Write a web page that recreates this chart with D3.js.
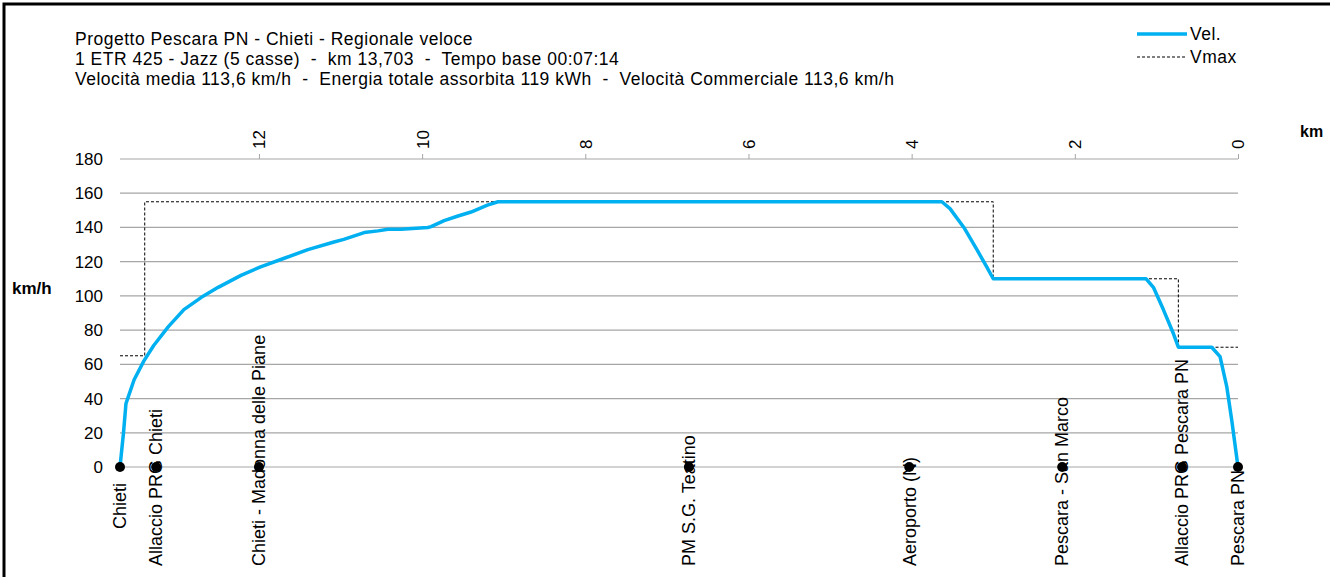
<!DOCTYPE html>
<html>
<head>
<meta charset="utf-8">
<script src="https://cdn.jsdelivr.net/npm/d3@7"></script>
<style>
  body { margin: 0; background: #fff; }
  svg { display: block; font-family: "Liberation Sans", Arial, sans-serif; }
  text { white-space: pre; }
</style>
</head>
<body>
<div id="chart"></div>
<script>
// title lines
var titleLines = [
  "Progetto Pescara PN - Chieti - Regionale veloce",
  "1 ETR 425 - Jazz (5 casse)  -  km 13,703  -  Tempo base 00:07:14",
  "Velocità media 113,6 km/h  -  Energia totale assorbita 119 kWh  -  Velocità Commerciale 113,6 km/h"
];

// velocity profile (km from Pescara PN, km/h)
var velKm = [13.703, 13.66, 13.63, 13.53, 13.41, 13.29, 13.11, 12.92, 12.71, 12.50, 12.22, 11.98,
  11.69, 11.40, 11.08, 10.96, 10.71, 10.54, 10.42, 10.26, 9.93, 9.89, 9.73, 9.56, 9.40, 9.20, 9.07,
  3.63, 3.53, 3.36, 3.20, 3.08, 3.00, 1.126, 1.037, 0.915, 0.792, 0.731, 0.322, 0.22, 0.138, 0.077, 0];
var velVal = [0, 20, 37, 51, 62, 71, 82, 92, 99, 105, 112, 117,
  122, 127, 131.5, 133, 137, 138, 139, 139, 140, 140.5, 144, 146.7, 149, 153, 155,
  155, 151, 140, 127, 117, 110, 110, 105, 92, 78, 70, 70, 64.5, 47, 27.5, 0];

// speed limit (step)
var vmaxKm  = [13.703, 13.40, 13.40, 3.0, 3.0, 0.731, 0.731, 0];
var vmaxVal = [65, 65, 155, 155, 110, 110, 70, 70];

// stations
var stationNames = ["Chieti", "Allaccio PRG Chieti", "Chieti - Madonna delle Piane", "PM S.G. Teatino",
  "Aeroporto (N)", "Pescara - San Marco", "Allaccio PRG Pescara PN", "Pescara PN"];
var stationKm = [13.703, 13.26, 12.0, 6.73, 4.03, 2.155, 0.686, 0];

var kmTicks = [0, 2, 4, 6, 8, 10, 12];
var speedTicks = [0, 20, 40, 60, 80, 100, 120, 140, 160, 180];

var W = 1330, H = 577;
var svg = d3.select("#chart").append("svg")
    .attr("width", W)
    .attr("height", H);

// frame
svg.append("rect")
    .attr("x", 4).attr("y", 4)
    .attr("width", 1400).attr("height", 700)
    .attr("fill", "none")
    .attr("stroke", "#000")
    .attr("stroke-width", 3);

var x = d3.scaleLinear().domain([13.703, 0]).range([120, 1238]);
var y = d3.scaleLinear().domain([0, 180]).range([467, 159]);

// title
svg.selectAll(".title")
  .data(titleLines)
  .enter().append("text")
    .attr("x", 75)
    .attr("y", function(d, i) { return 45 + i * 20; })
    .attr("font-size", "17.5px")
    .attr("letter-spacing", "0.5px")
    .attr("fill", "#000")
    .text(function(d) { return d; });

// grid
svg.append("g")
  .selectAll("line")
  .data(speedTicks)
  .enter().append("line")
    .attr("x1", x(13.703)).attr("x2", x(0))
    .attr("y1", function(d) { return y(d); })
    .attr("y2", function(d) { return y(d); })
    .attr("stroke", "#a6a6a6")
    .attr("stroke-width", 1.2);

// y labels
svg.append("g")
  .selectAll("text")
  .data(speedTicks)
  .enter().append("text")
    .attr("x", 103)
    .attr("y", function(d) { return y(d); })
    .attr("dy", "0.35em")
    .attr("text-anchor", "end")
    .attr("font-size", "17px")
    .text(function(d) { return d; });

svg.append("text")
    .attr("x", 12).attr("y", 294)
    .attr("font-size", "17px")
    .attr("font-weight", "bold")
    .text("km/h");

// top km axis
var xAxis = svg.append("g")
    .attr("transform", "translate(0," + y(180) + ")")
    .call(d3.axisTop(x).tickValues(kmTicks).tickSize(5).tickSizeOuter(0).tickFormat(d3.format("d")));
xAxis.select(".domain").remove();
xAxis.selectAll(".tick line").attr("stroke", "#a6a6a6");
xAxis.selectAll(".tick text")
    .attr("font-family", "Liberation Sans, Arial, sans-serif")
    .attr("font-size", "17px")
    .attr("fill", "#000")
    .attr("text-anchor", "start")
    .attr("x", 0).attr("y", 0).attr("dy", "0.35em")
    .attr("transform", "translate(0,-10) rotate(-90)");

svg.append("text")
    .attr("x", 1300).attr("y", 137)
    .attr("font-size", "16px")
    .attr("font-weight", "bold")
    .text("km");

// Vmax
var line = d3.line()
    .x(function(d) { return x(d[0]); })
    .y(function(d) { return y(d[1]); });

svg.append("path")
    .datum(d3.zip(vmaxKm, vmaxVal))
    .attr("d", line)
    .attr("fill", "none")
    .attr("stroke", "#000")
    .attr("stroke-width", 1)
    .attr("stroke-dasharray", "3,2");

// Vel
svg.append("path")
    .datum(d3.zip(velKm, velVal))
    .attr("d", line)
    .attr("fill", "none")
    .attr("stroke", "#00b0f0")
    .attr("stroke-width", 3.5)
    .attr("stroke-linejoin", "round");

// stations
var st = svg.append("g").selectAll("g")
  .data(d3.zip(stationNames, stationKm))
  .enter().append("g");

st.append("circle")
    .attr("cx", function(d) { return x(d[1]); })
    .attr("cy", y(0))
    .attr("r", 5)
    .attr("fill", "#000");

st.append("text")
    .attr("font-size", "18px")
    .attr("text-anchor", "start")
    .attr("dy", "0.35em")
    .text(function(d) { return d[0]; })
    .attr("transform", function(d) {
      var len = this.getComputedTextLength();
      var bottom = Math.min(483 + len, 566);
      return "translate(" + x(d[1]) + "," + bottom + ") rotate(-90)";
    });

// legend
var leg = svg.append("g");
leg.append("line")
    .attr("x1", 1137).attr("x2", 1187).attr("y1", 34).attr("y2", 34)
    .attr("stroke", "#00b0f0").attr("stroke-width", 3.5);
leg.append("line")
    .attr("x1", 1137).attr("x2", 1187).attr("y1", 57).attr("y2", 57)
    .attr("stroke", "#000").attr("stroke-width", 1).attr("stroke-dasharray", "3,2");
leg.append("text").attr("x", 1190).attr("y", 34).attr("dy", "0.35em")
    .attr("font-size", "17.5px").attr("letter-spacing", "0.5px").text("Vel.");
leg.append("text").attr("x", 1190).attr("y", 57).attr("dy", "0.35em")
    .attr("font-size", "17.5px").attr("letter-spacing", "0.5px").text("Vmax");
</script>
</body>
</html>
